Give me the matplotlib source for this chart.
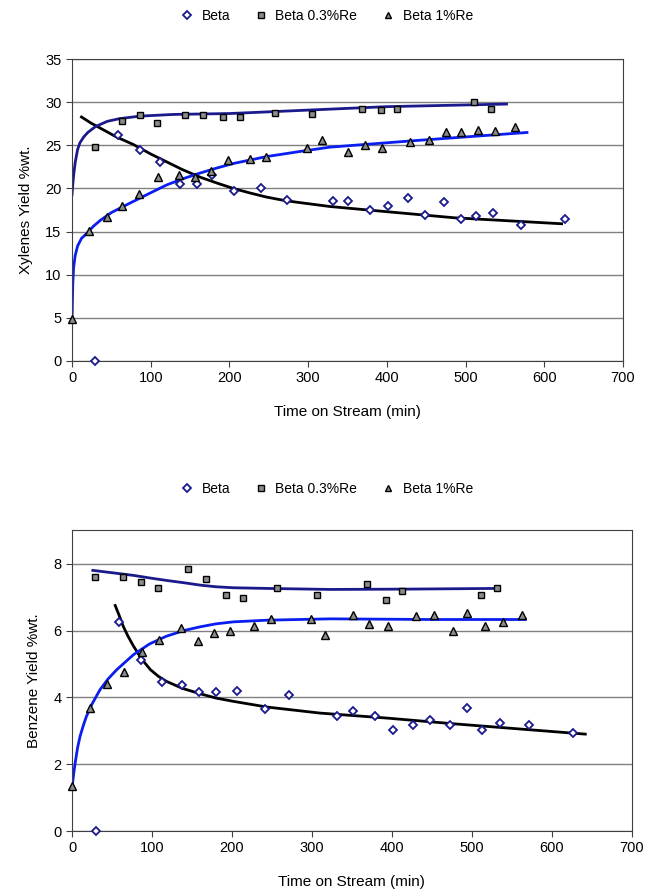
import matplotlib.pyplot as plt

plt.rcParams['font.family'] = ['Liberation Sans', 'DejaVu Sans']

# ---- Xylenes (top) ----
xb_t = [29, 58, 86, 112, 137, 159, 178, 206, 240, 273, 332, 351, 379, 401, 427, 449, 472, 494, 513, 535, 570, 626]
xb_y = [0.0, 26.2, 24.5, 23.1, 20.5, 20.5, 21.6, 19.7, 20.0, 18.7, 18.6, 18.5, 17.5, 18.0, 18.9, 16.9, 18.4, 16.4, 16.8, 17.1, 15.7, 16.5]
xr3_t = [29, 63, 86, 108, 144, 166, 192, 214, 258, 305, 368, 392, 413, 511, 532]
xr3_y = [24.8, 27.8, 28.5, 27.6, 28.5, 28.5, 28.3, 28.3, 28.8, 28.6, 29.2, 29.1, 29.2, 30.0, 29.2]
xr1_t = [0, 22, 45, 64, 85, 109, 136, 156, 177, 198, 226, 247, 298, 318, 351, 372, 394, 430, 454, 475, 494, 516, 537, 563]
xr1_y = [4.8, 15.1, 16.7, 18.0, 19.4, 21.3, 21.6, 21.3, 22.0, 23.3, 23.4, 23.7, 24.7, 25.6, 24.2, 25.0, 24.7, 25.4, 25.6, 26.6, 26.6, 26.8, 26.7, 27.1]

# trend lines
xb_fit_t = [12, 24, 36, 56, 78, 100, 120, 140, 163, 185, 205, 225, 247, 270, 290, 328, 400, 485, 622]
xb_fit_y = [28.3, 27.6, 27.0, 26.0, 25.1, 24.0, 23.1, 22.2, 21.3, 20.6, 20.0, 19.5, 19.0, 18.6, 18.35, 17.9, 17.3, 16.6, 15.9]
xr3_fit_t = [0, 1, 2, 4, 7, 10, 15, 20, 30, 45, 60, 86, 130, 200, 300, 400, 552]
xr3_fit_y = [19.3, 20.5, 21.5, 23.0, 24.5, 25.3, 26.0, 26.5, 27.2, 27.8, 28.1, 28.4, 28.6, 28.7, 29.1, 29.5, 29.8]
xr1_fit_t = [0, 0.5, 1, 2, 4, 7, 12, 19, 27, 36, 50, 65, 78, 100, 120, 140, 163, 185, 205, 247, 290, 328, 442, 578]
xr1_fit_y = [4.5, 7.0, 9.0, 10.8, 12.2, 13.3, 14.2, 14.8, 15.6, 16.3, 17.2, 17.9, 18.5, 19.5, 20.4, 21.1, 21.8, 22.4, 22.9, 23.7, 24.3, 24.8, 25.6, 26.5]

# ---- Benzene (bottom) ----
bb_t = [30, 59, 86, 112, 137, 159, 180, 206, 241, 272, 331, 352, 379, 401, 427, 448, 473, 494, 513, 535, 571, 627]
bb_y = [0.0, 6.25, 5.13, 4.46, 4.36, 4.16, 4.15, 4.18, 3.65, 4.06, 3.43, 3.58, 3.43, 3.01, 3.16, 3.31, 3.18, 3.68, 3.01, 3.23, 3.16, 2.93]
br3_t = [29, 64, 86, 108, 145, 167, 193, 214, 257, 306, 369, 393, 413, 512, 532]
br3_y = [7.61, 7.61, 7.46, 7.28, 7.83, 7.55, 7.05, 6.98, 7.26, 7.05, 7.40, 6.91, 7.18, 7.05, 7.28]
br1_t = [0, 23, 44, 65, 87, 109, 136, 157, 178, 198, 228, 249, 299, 317, 352, 371, 395, 430, 453, 476, 494, 517, 539, 563]
br1_y = [1.35, 3.68, 4.40, 4.76, 5.36, 5.71, 6.07, 5.68, 5.93, 5.98, 6.13, 6.36, 6.35, 5.88, 6.46, 6.21, 6.13, 6.43, 6.46, 5.98, 6.53, 6.13, 6.25, 6.46]

bb_fit_t = [54, 59, 64, 70, 77, 87, 98, 108, 118, 138, 160, 180, 202, 244, 310, 394, 477, 642]
bb_fit_y = [6.75, 6.45, 6.13, 5.83, 5.53, 5.15, 4.83, 4.63, 4.48, 4.27, 4.11, 3.98, 3.88, 3.71, 3.53, 3.38, 3.21, 2.90]
br3_fit_t = [26, 50, 77, 98, 118, 140, 160, 180, 202, 244, 323, 420, 531]
br3_fit_y = [7.8, 7.73, 7.65, 7.57, 7.5, 7.43, 7.36, 7.31, 7.28, 7.26, 7.23, 7.24, 7.26]
br1_fit_t = [0, 2, 4, 7, 10, 14, 18, 25, 35, 45, 56, 77, 97, 118, 140, 160, 180, 202, 244, 323, 450, 567]
br1_fit_y = [1.3, 1.7, 2.05, 2.5, 2.83, 3.15, 3.43, 3.8, 4.23, 4.55, 4.83, 5.28, 5.6, 5.83, 6.0, 6.11, 6.2, 6.26, 6.31, 6.35, 6.33, 6.33]

labels = ['Beta', 'Beta 0.3%Re', 'Beta 1%Re']
navy = '#1a1a8c'
blue = '#0a1ef0'


def draw(ax, b, r3, r1, fits, ylim, yticks, ylabel):
    ax.set_xlim(0, 700)
    ax.set_ylim(*ylim)
    ax.set_yticks(yticks)
    ax.set_xticks(range(0, 701, 100))
    ax.yaxis.grid(True, color='#808080', lw=1)
    ax.set_axisbelow(True)
    for s in ax.spines.values():
        s.set_color('#404040')
    ax.tick_params(direction='out', length=4, color='#404040', labelsize=10.5)
    ax.set_ylabel(ylabel, fontsize=11, labelpad=9)
    ax.set_xlabel('Time on Stream (min)', fontsize=11, labelpad=14)

    fb, f3, f1 = fits
    ax.plot(fb[0], fb[1], color='black', lw=2, zorder=2)
    ax.plot(f3[0], f3[1], color=navy, lw=2, zorder=2)
    ax.plot(f1[0], f1[1], color=blue, lw=2, zorder=2)

    h1, = ax.plot(b[0], b[1], 'D', ms=4.5, mfc='white', mec=navy, mew=1.3, ls='none', clip_on=False, zorder=3)
    h2, = ax.plot(r3[0], r3[1], 's', ms=5, mfc='#8c8c8c', mec='black', mew=1, ls='none', clip_on=False, zorder=3)
    h3, = ax.plot(r1[0], r1[1], '^', ms=6, mfc='#8c8c8c', mec='black', mew=1, ls='none', clip_on=False, zorder=3)
    return [h1, h2, h3]


fig = plt.figure(figsize=(6.46, 8.89), dpi=100)

ax1 = fig.add_axes([0.1115, 0.5943, 0.8529, 0.339])
hs = draw(ax1, (xb_t, xb_y), (xr3_t, xr3_y), (xr1_t, xr1_y),
          ((xb_fit_t, xb_fit_y), (xr3_fit_t, xr3_fit_y), (xr1_fit_t, xr1_fit_y)),
          (0, 35), range(0, 36, 5), 'Xylenes Yield %wt.')
fig.legend(hs, labels, loc='center', bbox_to_anchor=(0.5, 1 - 16 / 889), ncol=3, frameon=False,
           fontsize=10, handletextpad=0.05, columnspacing=1.2, markerscale=0.8)

ax2 = fig.add_axes([0.1115, 0.0652, 0.8663, 0.3383])
hs = draw(ax2, (bb_t, bb_y), (br3_t, br3_y), (br1_t, br1_y),
          ((bb_fit_t, bb_fit_y), (br3_fit_t, br3_fit_y), (br1_fit_t, br1_fit_y)),
          (0, 9), range(0, 9, 2), 'Benzene Yield %wt.')
fig.legend(hs, labels, loc='center', bbox_to_anchor=(0.5, 1 - 489 / 889), ncol=3, frameon=False,
           fontsize=10, handletextpad=0.05, columnspacing=1.2, markerscale=0.8)

fig.savefig('out.png', dpi=100)
